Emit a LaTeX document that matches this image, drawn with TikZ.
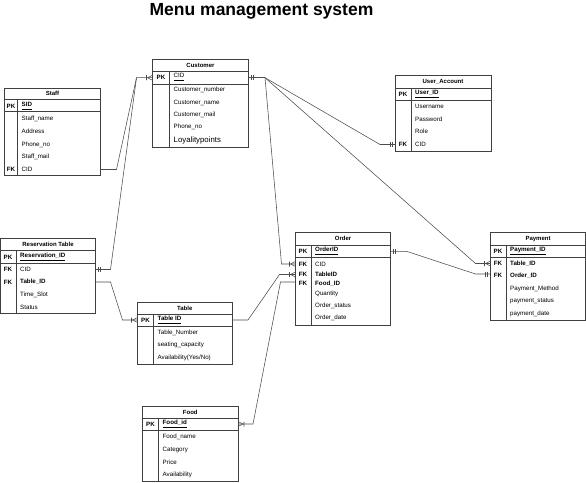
\documentclass[tikz,border=0pt]{standalone}
\usepackage{fontspec}
\setmainfont{Liberation Sans}
\usetikzlibrary{calc}
\tikzset{
  ebox/.style={draw=black!75, line width=0.6pt, inner sep=0pt, outer sep=0pt, anchor=north west},
  eline/.style={draw=black!75, line width=0.6pt},
  pkline/.style={draw=black!75, line width=0.9pt},
  hdr/.style={font=\bfseries\fontsize{6}{7}\selectfont, inner sep=0pt},
  attr/.style={font=\fontsize{6.2}{7}\selectfont, inner sep=0pt},
  big/.style={font=\fontsize{7.8}{9}\selectfont, inner sep=0pt},
  conn/.style={draw=black!70, line width=0.55pt},
  ttl/.style={font=\bfseries\fontsize{17.5}{20}\selectfont, inner sep=0pt},
  crowL/.pic={\draw[conn] (-5,0) -- (0,-2.5) (-5,0) -- (0,2.5) (-6,-2.5) -- (-6,2.5);},
  crowR/.pic={\draw[conn] (5,0) -- (0,-2.5) (5,0) -- (0,2.5) (6,-2.5) -- (6,2.5);},
  oneL/.pic={\draw[conn] (-3,-2.5) -- (-3,2.5) (-5,-2.5) -- (-5,2.5);},
  oneR/.pic={\draw[conn] (3,-2.5) -- (3,2.5) (5,-2.5) -- (5,2.5);}
}
% name L R T H P B D title
\newcommand\ent[9]{%
  \node[ebox, minimum width={(#3)-(#2)}, minimum height={(#7)-(#4)}] (#1) at (#2,#4) {};
  \draw[eline] (#2,#5) -- (#3,#5);
  \draw[pkline] (#2,#6) -- (#3,#6);
  \draw[eline] (#8,#5) -- (#8,#7);
  \node[hdr] (#1-t) at ({(#2+#3)/2},{(#4+#5)/2}) {#9};
}
\newcommand\keyl[4]{\node[attr] (#1) at (#2,#3) {\textbf{#4}};}
\newcommand\fld[4]{\node[attr, anchor=west] (#1) at (#2,#3) {#4};}
\newcommand\pkul[1]{\underline{\smash{#1}\vphantom{p}}}
\begin{document}
\begin{tikzpicture}[x=1pt,y=-1pt]
\useasboundingbox (0,0) rectangle (586,482);
\node[ttl] (title) at (261.5,11) {Menu management system};

% Customer
\ent{cust}{152.5}{248.5}{59}{71}{84}{147}{169.5}{Customer}
\keyl{cust-pk}{161}{77.7}{PK}
\fld{cust-cid}{173.5}{77.7}{\pkul{CID}}
\fld{cust-num}{173.5}{89.5}{Customer\_number}
\fld{cust-name}{173.5}{102.5}{Customer\_name}
\fld{cust-mail}{173.5}{115.2}{Customer\_mail}
\fld{cust-ph}{173.5}{127}{Phone\_no}
\node[big, anchor=west] (cust-loy) at (173.5,140) {Loyalitypoints};

% Staff
\ent{staff}{4.5}{100.5}{88}{99.5}{111.5}{175}{17.5}{Staff}
\keyl{staff-pk}{11}{106}{PK}
\fld{staff-sid}{21.5}{106}{\textbf{\pkul{SID}}}
\fld{staff-name}{21.5}{118.5}{Staff\_name}
\fld{staff-addr}{21.5}{131.5}{Address}
\fld{staff-ph}{21.5}{144.5}{Phone\_no}
\fld{staff-mail}{21.5}{157}{Staff\_mail}
\keyl{staff-fk}{11}{169.5}{FK}
\fld{staff-cid}{21.5}{169.5}{CID}

% User_Account
\ent{ua}{395}{491}{75.5}{88}{100}{151}{411}{User\_Account}
\keyl{ua-pk}{403}{94}{PK}
\fld{ua-id}{415}{94}{\textbf{\pkul{User\_ID}}}
\fld{ua-un}{415}{106}{Username}
\fld{ua-pw}{415}{119}{Password}
\fld{ua-role}{415}{131.5}{Role}
\keyl{ua-fk}{403}{144.5}{FK}
\fld{ua-cid}{415}{144.5}{CID}

% Reservation Table
\ent{res}{0.5}{95.5}{238}{250.5}{263.5}{313.5}{16}{Reservation Table}
\keyl{res-pk}{8}{257}{PK}
\fld{res-id}{20}{257}{\textbf{\pkul{Reservation\_ID}}}
\keyl{res-fk1}{8}{269.5}{FK}
\fld{res-cid}{20}{269.5}{CID}
\keyl{res-fk2}{8}{282}{FK}
\fld{res-tid}{20}{282}{\textbf{Table\_ID}}
\fld{res-ts}{20}{294.5}{Time\_Slot}
\fld{res-st}{20}{307}{Status}

% Table
\ent{tab}{137.5}{232}{302.5}{314}{326}{364}{153.5}{Table}
\keyl{tab-pk}{145.5}{320}{PK}
\fld{tab-id}{157.5}{320}{\textbf{\pkul{Table ID}}}
\fld{tab-num}{157.5}{333}{Table\_Number}
\fld{tab-cap}{157.5}{345}{seating\_capacity}
\fld{tab-av}{157.5}{357.5}{Availability(Yes/No)}

% Order
\ent{ord}{295.5}{390.5}{232.5}{245}{257.5}{325.5}{311}{Order}
\keyl{ord-pk}{303}{251.3}{PK}
\fld{ord-id}{315}{251.3}{\textbf{\pkul{OrderID}}}
\keyl{ord-fk1}{303}{264}{FK}
\fld{ord-cid}{315}{264}{CID}
\keyl{ord-fk2}{303}{274.5}{FK}
\fld{ord-tid}{315}{274.5}{\textbf{TableID}}
\keyl{ord-fk3}{303}{283.5}{FK}
\fld{ord-fid}{315}{283.5}{\textbf{Food\_ID}}
\fld{ord-q}{315}{293.5}{Quantity}
\fld{ord-st}{315}{305.5}{Order\_status}
\fld{ord-dt}{315}{318}{Order\_date}

% Payment
\ent{pay}{490.5}{585.5}{232.5}{245}{257}{320.5}{506}{Payment}
\keyl{pay-pk}{498}{251.3}{PK}
\fld{pay-id}{510}{251.3}{\textbf{\pkul{Payment\_ID}}}
\keyl{pay-fk1}{498}{263.5}{FK}
\fld{pay-tid}{510}{263.5}{\textbf{Table\_ID}}
\keyl{pay-fk2}{498}{275.5}{FK}
\fld{pay-oid}{510}{275.5}{\textbf{Order\_ID}}
\fld{pay-pm}{510}{288.5}{Payment\_Method}
\fld{pay-ps}{510}{301}{payment\_status}
\fld{pay-pd}{510}{313.5}{payment\_date}

% Food
\ent{food}{142.5}{238}{406.5}{418.5}{430}{481}{158.5}{Food}
\keyl{food-pk}{150.5}{424}{PK}
\fld{food-id}{162.5}{424}{\textbf{\pkul{Food\_id}}}
\fld{food-name}{162.5}{436.5}{Food\_name}
\fld{food-cat}{162.5}{449.5}{Category}
\fld{food-pr}{162.5}{462}{Price}
\fld{food-av}{162.5}{474.5}{Availability}

% Connectors
\coordinate (cfan) at ($(cust.east |- cust-cid)+(16.5,0)$);
\coordinate (cin) at ($(cust.west |- cust-cid)+(-16,0)$);
\draw[conn] (staff.east |- staff-cid) -- ++(16,0) -- (cin) -- (cust.west |- cust-cid);
\draw[conn] (res.east |- res-cid) -- ++(15,0) -- (cin);
\pic at (cust.west |- cust-cid) {crowL};
\pic at (res.east |- res-cid) {oneR};
\draw[conn] (cust.east |- cust-cid) -- (cfan);
\pic at (cust.east |- cust-cid) {oneR};
\draw[conn] (cfan) -- ($(ua.west |- ua-cid)+(-15,0)$) -- (ua.west |- ua-cid);
\pic at (ua.west |- ua-cid) {oneL};
\draw[conn] (cfan) -- ($(ord.west |- ord-cid)+(-14,0)$) -- (ord.west |- ord-cid);
\pic at (ord.west |- ord-cid) {crowL};
\draw[conn] (cfan) -- ($(pay.west |- pay-tid)+(-15,0)$) -- (pay.west |- pay-tid);
\pic at (pay.west |- pay-tid) {crowL};
\draw[conn] (ord.east |- ord-id) -- ++(16,0) -- ($(pay.west |- pay-oid)+(-15,-1.5)$) -- ($(pay.west |- pay-oid)+(0,-1.5)$);
\pic at (ord.east |- ord-id) {oneR};
\pic at ($(pay.west |- pay-oid)+(0,-1.5)$) {oneL};
\draw[conn] (tab.east |- tab-id) -- ++(16,0) -- ($(ord.west |- ord-tid)+(-16,0)$) -- (ord.west |- ord-tid);
\pic at (ord.west |- ord-tid) {crowL};
\draw[conn] (food.east |- food-id) -- ++(15,0) -- ($(ord.west |- ord-fid)+(-15,-1.5)$) -- ($(ord.west |- ord-fid)+(0,-1.5)$);
\pic at (food.east |- food-id) {crowR};
\draw[conn] (res.east |- res-tid) -- ++(15,0) -- ($(tab.west |- tab-id)+(-15,0)$) -- (tab.west |- tab-id);
\pic at (tab.west |- tab-id) {crowL};
\end{tikzpicture}
\end{document}
